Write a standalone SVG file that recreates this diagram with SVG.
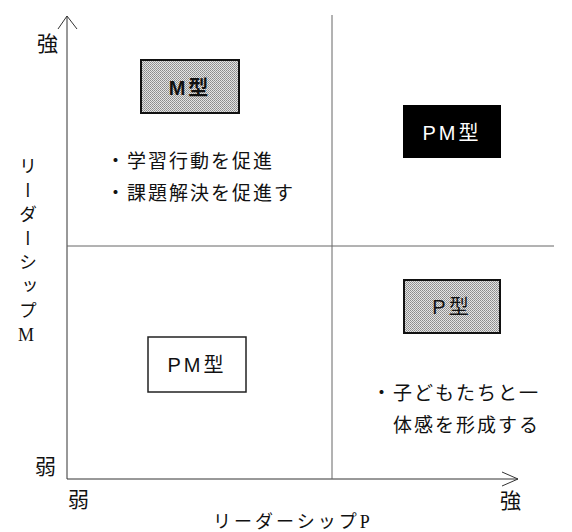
<svg xmlns="http://www.w3.org/2000/svg" width="572" height="532" viewBox="0 0 572 532">
<style>
.ax{stroke:#333;stroke-width:1;fill:none}
.grid{stroke:#666;stroke-width:1;fill:none}
.lbl{font-family:"Noto Sans CJK JP","Liberation Serif",serif;font-size:21px;fill:#111}
.mid{font-family:"Liberation Serif","Noto Sans CJK JP",serif;font-size:18px;fill:#111}
.body{font-family:"Noto Sans CJK JP",sans-serif;font-size:19px;fill:#111;letter-spacing:2px}
.box{stroke:#111;stroke-width:2}
.bt{font-family:"Liberation Sans","Noto Sans CJK JP",sans-serif;font-size:20px;text-anchor:middle;letter-spacing:3px}
</style>
<defs>
<pattern id="dith" width="2" height="2" patternUnits="userSpaceOnUse">
<rect width="2" height="2" fill="#e4e4e4"/>
<rect width="1" height="1" fill="#8a8a8a"/>
<rect x="1" y="1" width="1" height="1" fill="#9a9a9a"/>
</pattern>
</defs>
<g id="connectors">
<line class="ax" x1="67" y1="16" x2="67" y2="479"/>
<polyline class="ax" points="58,29 67,16 77,29"/>
<line class="ax" x1="67" y1="479" x2="518" y2="479"/>
<polyline class="ax" points="502,472 518,479 502,486"/>
<line class="grid" x1="332" y1="15" x2="332" y2="479"/>
<line class="grid" x1="67" y1="246" x2="554" y2="246"/>
</g>
<g id="axis-labels">
<text class="lbl" x="37" y="51">強</text>
<text class="lbl" x="35" y="474">弱</text>
<text class="lbl" x="68" y="507">弱</text>
<text class="lbl" x="500" y="508">強</text>
<text class="mid" x="213" y="528" letter-spacing="3">リーダーシップP</text>
<text class="mid" x="26" y="157" font-size="19" style="writing-mode:vertical-rl;text-orientation:upright" letter-spacing="6">リーダーシップM</text>
</g>
<g id="node-m">
<rect class="box" x="141" y="60" width="98" height="53" fill="url(#dith)"/>
<text class="bt" x="190" y="95" font-weight="bold" font-size="21" fill="#111" letter-spacing="0">M型</text>
</g>
<g id="node-m-text">
<text class="body" x="106" y="168">・学習行動を促進</text>
<text class="body" x="106" y="200">・課題解決を促進す</text>
</g>
<g id="node-pm-strong">
<rect x="403" y="105" width="98" height="53" fill="#000"/>
<text class="bt" x="452" y="140" fill="#fff">PM型</text>
</g>
<g id="node-p">
<rect class="box" x="404" y="280" width="96" height="53" fill="url(#dith)"/>
<text class="bt" x="452" y="314" fill="#111" letter-spacing="0">P型</text>
</g>
<g id="node-p-text">
<text class="body" x="372" y="400">・子どもたちと一</text>
<text class="body" x="393" y="432">体感を形成する</text>
</g>
<g id="node-pm-weak">
<rect x="148" y="337" width="98" height="55" fill="#fff" stroke="#222" stroke-width="1.5"/>
<text class="bt" x="197" y="372" fill="#111">PM型</text>
</g>
</svg>
